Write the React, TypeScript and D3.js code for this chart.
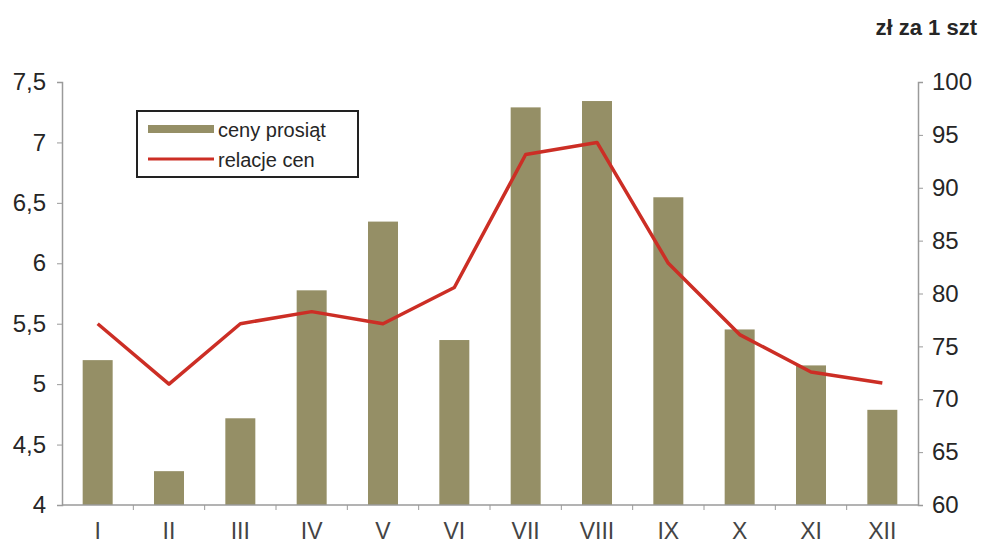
import React, { useEffect, useRef } from "react";
import * as d3 from "d3";

const months = ["I", "II", "III", "IV", "V", "VI", "VII", "VIII", "IX", "X", "XI", "XII"];
// ceny prosiąt, zł za 1 szt (right axis)
const piglets = [73.7, 63.2, 68.2, 80.3, 86.8, 75.6, 97.6, 98.2, 89.1, 76.6, 73.2, 69.0];
// relacje cen (left axis)
const ratio = [5.5, 5.0, 5.5, 5.6, 5.5, 5.8, 6.9, 7.0, 6.0, 5.41, 5.1, 5.01];
const leftTicks = [4, 4.5, 5, 5.5, 6, 6.5, 7, 7.5];
const rightTicks = [60, 65, 70, 75, 80, 85, 90, 95, 100];

const BAR = "#958f66";
const LINE = "#cc2e25";
const TEXT = "#262626";
const AXIS = "#9a9a9a";

const App = () => {
  const ref = useRef<SVGSVGElement>(null);

  useEffect(() => {
    const svg = d3.select(ref.current);
    svg.selectAll("*").remove();

    const width = 982;
    const height = 545;
    const margin = { top: 82, right: 64, bottom: 40, left: 62 };
    const x0 = margin.left;
    const x1 = width - margin.right;
    const y0 = height - margin.bottom;
    const y1 = margin.top;
    const font = "'Liberation Sans', Arial, sans-serif";

    const x = d3.scaleBand().domain(months).range([x0, x1]).paddingInner(0).paddingOuter(0);
    const yL = d3.scaleLinear().domain([4, 7.5]).range([y0, y1]);
    const yR = d3.scaleLinear().domain([60, 100]).range([y0, y1]);
    const barW = 30;

    // Bars
    svg.append("g")
      .selectAll("rect")
      .data(piglets)
      .enter()
      .append("rect")
      .attr("x", (d, i) => x(months[i])! + x.bandwidth() / 2 - barW / 2)
      .attr("y", d => yR(d))
      .attr("width", barW)
      .attr("height", d => y0 - yR(d))
      .attr("fill", BAR);

    // Left axis
    const left = svg.append("g")
      .attr("transform", `translate(${x0},0)`)
      .call(d3.axisLeft(yL).tickValues(leftTicks).tickSize(5).tickPadding(11)
        .tickFormat(d => String(d).replace(".", ",")));
    left.select(".domain").attr("stroke", AXIS).attr("stroke-width", 1.5);
    left.selectAll(".tick line").attr("stroke", AXIS);
    left.selectAll("text").attr("font-size", "24px").attr("font-family", font).attr("fill", TEXT);

    // Right axis
    const right = svg.append("g")
      .attr("transform", `translate(${x1},0)`)
      .call(d3.axisRight(yR).tickValues(rightTicks).tickSize(5).tickPadding(9));
    right.select(".domain").attr("stroke", AXIS).attr("stroke-width", 1.5);
    right.selectAll(".tick line").attr("stroke", AXIS);
    right.selectAll("text").attr("font-size", "24px").attr("font-family", font).attr("fill", TEXT);

    // Bottom axis
    const bottom = svg.append("g").attr("transform", `translate(0,${y0})`);
    bottom.append("line").attr("x1", x0).attr("x2", x1).attr("stroke", AXIS).attr("stroke-width", 1.5);
    bottom.selectAll("line.sep")
      .data(months.slice(1))
      .enter()
      .append("line")
      .attr("class", "sep")
      .attr("x1", d => x(d)!)
      .attr("x2", d => x(d)!)
      .attr("y1", 0)
      .attr("y2", 5)
      .attr("stroke", AXIS);
    bottom.selectAll("text")
      .data(months)
      .enter()
      .append("text")
      .attr("x", d => x(d)! + x.bandwidth() / 2)
      .attr("y", 34)
      .attr("text-anchor", "middle")
      .attr("font-size", "23px")
      .attr("font-family", font)
      .attr("fill", "#444")
      .text(d => d);

    // Line
    const line = d3.line<number>()
      .x((d, i) => x(months[i])! + x.bandwidth() / 2)
      .y(d => yL(d));
    svg.append("path")
      .datum(ratio)
      .attr("d", line)
      .attr("fill", "none")
      .attr("stroke", LINE)
      .attr("stroke-width", 3.5)
      .attr("stroke-linejoin", "round");

    // Unit label
    svg.append("text")
      .attr("x", 977)
      .attr("y", 35)
      .attr("text-anchor", "end")
      .attr("font-size", "22px")
      .attr("font-weight", "bold")
      .attr("font-family", font)
      .attr("fill", TEXT)
      .text("zł za 1 szt");

    // Legend
    const lg = svg.append("g").attr("transform", "translate(137,111)");
    lg.append("rect")
      .attr("width", 221)
      .attr("height", 66)
      .attr("fill", "white")
      .attr("stroke", "#222")
      .attr("stroke-width", 2);
    lg.append("rect").attr("x", 11).attr("y", 14).attr("width", 66).attr("height", 8).attr("fill", BAR);
    lg.append("line").attr("x1", 11).attr("x2", 77).attr("y1", 48).attr("y2", 48)
      .attr("stroke", LINE).attr("stroke-width", 3);
    lg.append("text").attr("x", 81).attr("y", 26).attr("font-size", "20px")
      .attr("font-family", font).attr("fill", TEXT).text("ceny prosiąt");
    lg.append("text").attr("x", 81).attr("y", 56).attr("font-size", "20px")
      .attr("font-family", font).attr("fill", TEXT).text("relacje cen");
  }, []);

  return <svg ref={ref} width={982} height={545} style={{ display: "block", position: "absolute", left: 0, top: 0 }}></svg>;
};

export default App;
